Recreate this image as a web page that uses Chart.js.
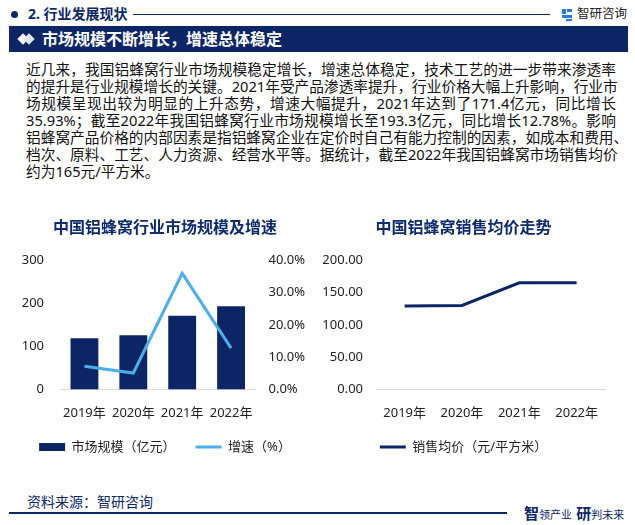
<!DOCTYPE html>
<html>
<head>
<meta charset="utf-8">
<script src="https://cdn.jsdelivr.net/npm/chart.js@4"></script>
<style>
  body { margin: 0; background: #fff; font-family: "Noto Sans", "Noto Sans CJK SC", sans-serif; }
  #page { position: relative; width: 635px; height: 525px; overflow: hidden; background: #fff; }
  .abs { position: absolute; }
  .navy { color: #0d2767; }
  #para div { white-space: nowrap; height: 17px; line-height: 17px; }
  #para div.j { width: 590px; text-align: justify; text-align-last: justify; }
</style>
</head>
<body>
<div id="page">
  <!-- section header -->
  <div class="abs" style="left:11px;top:11px;width:7px;height:7px;border-radius:50%;background:#0d2767"></div>
  <div class="abs navy" style="left:28px;top:4px;font-size:14px;font-weight:bold;line-height:20px">2. 行业发展现状</div>
  <div class="abs" style="left:133px;top:14px;width:417px;height:1px;background:#0d2767"></div>
  <div class="abs" style="left:562px;top:9px;width:4px;height:5px;background:#2d7ad6"></div>
  <div class="abs" style="left:567px;top:9px;width:5px;height:3px;background:#2d7ad6"></div>
  <div class="abs" style="left:562px;top:15px;width:10px;height:3px;background:#2d7ad6"></div>
  <div class="abs" style="left:566px;top:19px;width:6px;height:2px;background:#2d7ad6"></div>
  <div class="abs" style="left:577px;top:5px;font-size:12.5px;line-height:18px;color:#222">智研咨询</div>

  <!-- banner -->
  <div class="abs" style="left:9px;top:26px;width:619px;height:26px;background:#0c2565"></div>
  <div class="abs" style="left:19px;top:35px;width:8px;height:8px;background:#fff;transform:rotate(45deg)"></div>
  <div class="abs" style="left:25px;top:35px;width:8px;height:8px;background:#dfe4ee;transform:rotate(45deg)"></div>
  <div class="abs" style="left:42px;top:28px;font-size:16px;font-weight:bold;line-height:22px;color:#fff">市场规模不断增长，增速总体稳定</div>

  <!-- text -->
  <div id="para" class="abs" style="left:26px;top:61px;font-size:14.7px;color:#111">
    <div class="j">近几来，我国铝蜂窝行业市场规模稳定增长，增速总体稳定，技术工艺的进一步带来渗透率</div>
    <div class="j">的提升是行业规模增长的关键。2021年受产品渗透率提升，行业价格大幅上升影响，行业市</div>
    <div class="j">场规模呈现出较为明显的上升态势，增速大幅提升，2021年达到了171.4亿元，同比增长</div>
    <div class="j">35.93%；截至2022年我国铝蜂窝行业市场规模增长至193.3亿元，同比增长12.78%。影响</div>
    <div>铝蜂窝产品价格的内部因素是指铝蜂窝企业在定价时自己有能力控制的因素，如成本和费用、</div>
    <div class="j">档次、原料、工艺、人力资源、经营水平等。据统计，截至2022年我国铝蜂窝市场销售均价</div>
    <div>约为165元/平方米。</div>
  </div>

  <canvas id="chartSize" class="abs" style="left:0;top:210px" width="330" height="262"></canvas>
  <canvas id="chartPrice" class="abs" style="left:320px;top:210px" width="295" height="262"></canvas>

  <!-- footer -->
  <div class="abs navy" style="left:27px;top:493px;font-size:14px;line-height:18px">资料来源：智研咨询</div>
  <div class="abs" style="left:9px;top:512px;width:498px;height:2px;background:#0d2767"></div>
  <div class="abs navy" style="left:524px;top:504px;line-height:18px;white-space:nowrap">
    <span style="font-size:15px;font-weight:bold">智</span><span style="font-size:11px">领产业</span>
    <span style="font-size:15px;font-weight:bold">研</span><span style="font-size:11px">判未来</span>
  </div>
</div>

<script>
// values
const years = ["2019年", "2020年", "2021年", "2022年"];
const marketSize = [118.9, 126.1, 171.4, 193.3];   // 亿元
const growthRate = [7.2, 5.1, 35.93, 12.78];       // %
const avgPrice = [129, 130, 165, 165];             // 元/平方米

const NAVY = "#0c2565";
const SKY = "#4daeea";
const FONT = "'Noto Sans', 'Noto Sans CJK SC', sans-serif";

Chart.defaults.font.family = FONT;
Chart.defaults.font.size = 13;
Chart.defaults.color = "#222";
Chart.defaults.animation = false;

/*
    legend items with a box for bars and a thin line for lines
*/
function legendItems(styles) {
    return function(chart) {
        const items = Chart.defaults.plugins.legend.labels.generateLabels(chart);
        items.forEach((item, i) => Object.assign(item, styles[i]));
        return items;
    };
}

function titleOpts(text) {
    return {
        display: true,
        text: text,
        color: "#0d2b6e",
        font: { size: 16, weight: "bold" },
        padding: { top: 9, bottom: 22 }
    };
}

function legendOpts(styles) {
    return {
        position: "bottom",
        labels: {
            usePointStyle: true,
            pointStyleWidth: 26,
            boxHeight: 8,
            padding: 20,
            color: "#222",
            generateLabels: legendItems(styles)
        }
    };
}

// fixed axis sizes so the plot area sits where the picture has it
const fixWidth = w => scale => { scale.width = w; };
const fixHeight = h => scale => { scale.height = h; };

function xAxis() {
    return {
        offset: true,
        grid: { display: false, drawTicks: false },
        border: { display: true, color: "#d9d9d9" },
        ticks: { padding: 16, maxRotation: 0, autoSkip: false },
        afterFit: fixHeight(31)
    };
}

new Chart(document.getElementById("chartSize"), {
    data: {
        labels: years,
        datasets: [
            {
                type: "line",
                label: "增速（%）",
                data: growthRate,
                yAxisID: "y1",
                borderColor: SKY,
                backgroundColor: SKY,
                borderWidth: 3,
                pointRadius: 0,
                tension: 0,
                order: 0
            },
            {
                type: "bar",
                label: "市场规模（亿元）",
                data: marketSize,
                yAxisID: "y",
                backgroundColor: NAVY,
                barPercentage: 0.57,
                categoryPercentage: 1,
                order: 1
            }
        ]
    },
    options: {
        responsive: false,
        layout: { padding: { left: 0, right: 0, bottom: 8.5 } },
        plugins: {
            title: titleOpts("中国铝蜂窝行业市场规模及增速"),
            legend: Object.assign(legendOpts([
                { pointStyle: "line", lineWidth: 3, strokeStyle: SKY },
                { pointStyle: "rect", lineWidth: 0 }
            ]), { reverse: true }),
            tooltip: { enabled: false }
        },
        scales: {
            x: xAxis(),
            y: {
                position: "left",
                min: 0, max: 300,
                ticks: { stepSize: 100, padding: 16 },
                grid: { display: false, drawTicks: false },
                border: { display: false },
                afterFit: fixWidth(60)
            },
            y1: {
                position: "right",
                min: 0, max: 40,
                ticks: { stepSize: 10, padding: 13, callback: v => v.toFixed(1) + "%" },
                grid: { display: false, drawTicks: false },
                border: { display: false },
                afterFit: fixWidth(74.5)
            }
        }
    }
});

new Chart(document.getElementById("chartPrice"), {
    type: "line",
    data: {
        labels: years,
        datasets: [{
            label: "销售均价（元/平方米）",
            data: avgPrice,
            borderColor: NAVY,
            backgroundColor: NAVY,
            borderWidth: 3,
            pointRadius: 0,
            tension: 0
        }]
    },
    options: {
        responsive: false,
        layout: { padding: { left: 0, right: 8, bottom: 8.5 } },
        plugins: {
            title: titleOpts("中国铝蜂窝销售均价走势"),
            legend: legendOpts([{ pointStyle: "line", lineWidth: 3, strokeStyle: NAVY }]),
            tooltip: { enabled: false }
        },
        scales: {
            x: xAxis(),
            y: {
                min: 0, max: 200,
                ticks: { stepSize: 50, padding: 13, callback: v => v.toFixed(2) },
                grid: { display: false, drawTicks: false },
                border: { display: false },
                afterFit: fixWidth(56)
            }
        }
    }
});
</script>
</body>
</html>
